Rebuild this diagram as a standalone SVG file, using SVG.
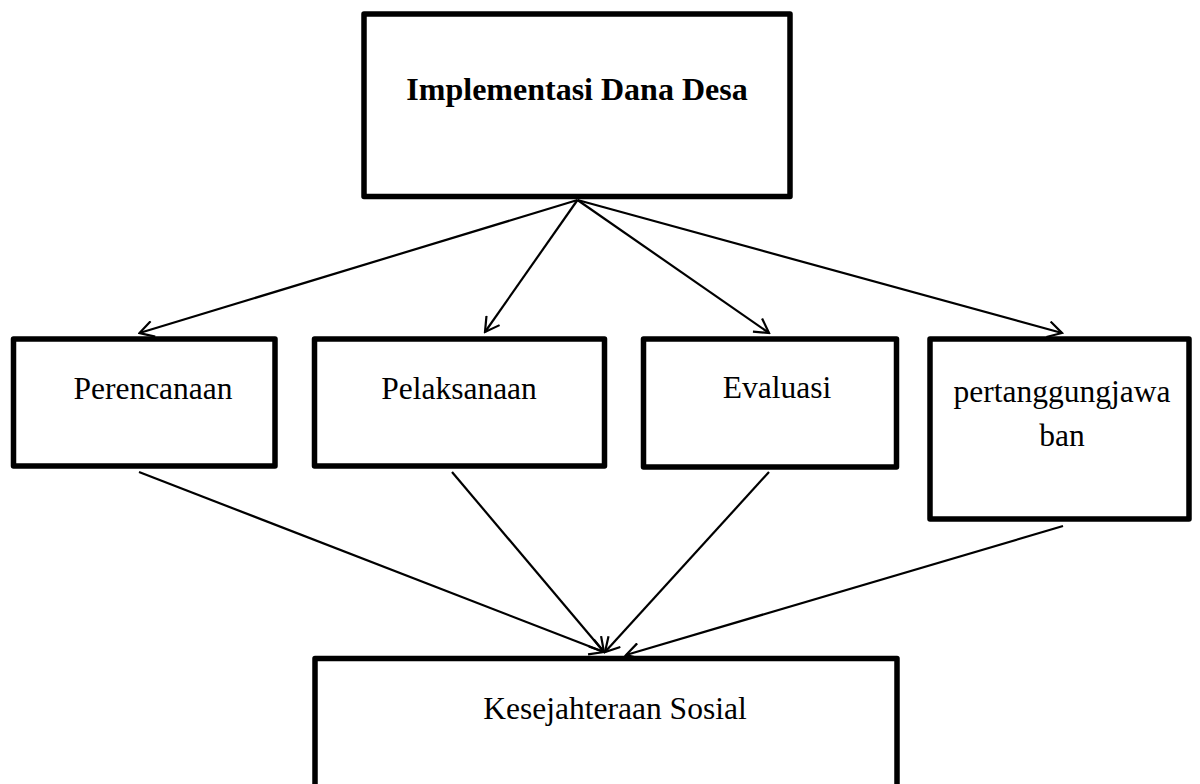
<svg xmlns="http://www.w3.org/2000/svg" width="1200" height="784" viewBox="0 0 1200 784">
<style>
.box{fill:#fff;stroke:#000;stroke-width:5.5;stroke-linejoin:round}
.lbl{font-family:"Liberation Serif","Times New Roman",serif;font-size:31.5px;fill:#000;text-anchor:middle}
.b{font-weight:bold;font-size:32px}
.con line{stroke:#000;stroke-width:2.2}
</style>
<defs>
<marker id="ah" viewBox="0 0 17 18" refX="15" refY="9" markerWidth="17" markerHeight="18" markerUnits="userSpaceOnUse" orient="auto">
<path d="M1,1 L15,9 L1,17" fill="none" stroke="#000" stroke-width="2.2"/>
</marker>
</defs>
<rect width="1200" height="784" fill="#fff"/>
<g id="n-implementasi">
<rect class="box" x="364" y="14" width="426" height="182.5"/>
<text class="lbl b" x="577" y="100">Implementasi Dana Desa</text>
</g>
<g id="n-perencanaan">
<rect class="box" x="13.5" y="339" width="261.5" height="127"/>
<text class="lbl" x="153" y="399">Perencanaan</text>
</g>
<g id="n-pelaksanaan">
<rect class="box" x="314.5" y="339" width="290" height="127"/>
<text class="lbl" x="459" y="399">Pelaksanaan</text>
</g>
<g id="n-evaluasi">
<rect class="box" x="643.5" y="339" width="253" height="128"/>
<text class="lbl" x="777" y="398">Evaluasi</text>
</g>
<g id="n-pertanggungjawaban">
<rect class="box" x="930" y="339" width="259" height="180"/>
<text class="lbl" x="1062" y="402">pertanggungjawa</text>
<text class="lbl" x="1062" y="446">ban</text>
</g>
<g id="n-kesejahteraan">
<rect class="box" x="315" y="658.5" width="582" height="200"/>
<text class="lbl" x="615" y="719">Kesejahteraan Sosial</text>
</g>
<g id="connectors" class="con">
<line x1="577.5" y1="200" x2="139.5" y2="333" marker-end="url(#ah)"/>
<line x1="577.5" y1="200" x2="485" y2="332" marker-end="url(#ah)"/>
<line x1="577.5" y1="200" x2="769" y2="333" marker-end="url(#ah)"/>
<line x1="577.5" y1="200" x2="1062" y2="333" marker-end="url(#ah)"/>
<line x1="139" y1="472" x2="604" y2="652" marker-end="url(#ah)"/>
<line x1="452" y1="472" x2="604" y2="652" marker-end="url(#ah)"/>
<line x1="769" y1="472" x2="605" y2="652" marker-end="url(#ah)"/>
<line x1="1063" y1="526" x2="626" y2="655" marker-end="url(#ah)"/>
</g>
</svg>
